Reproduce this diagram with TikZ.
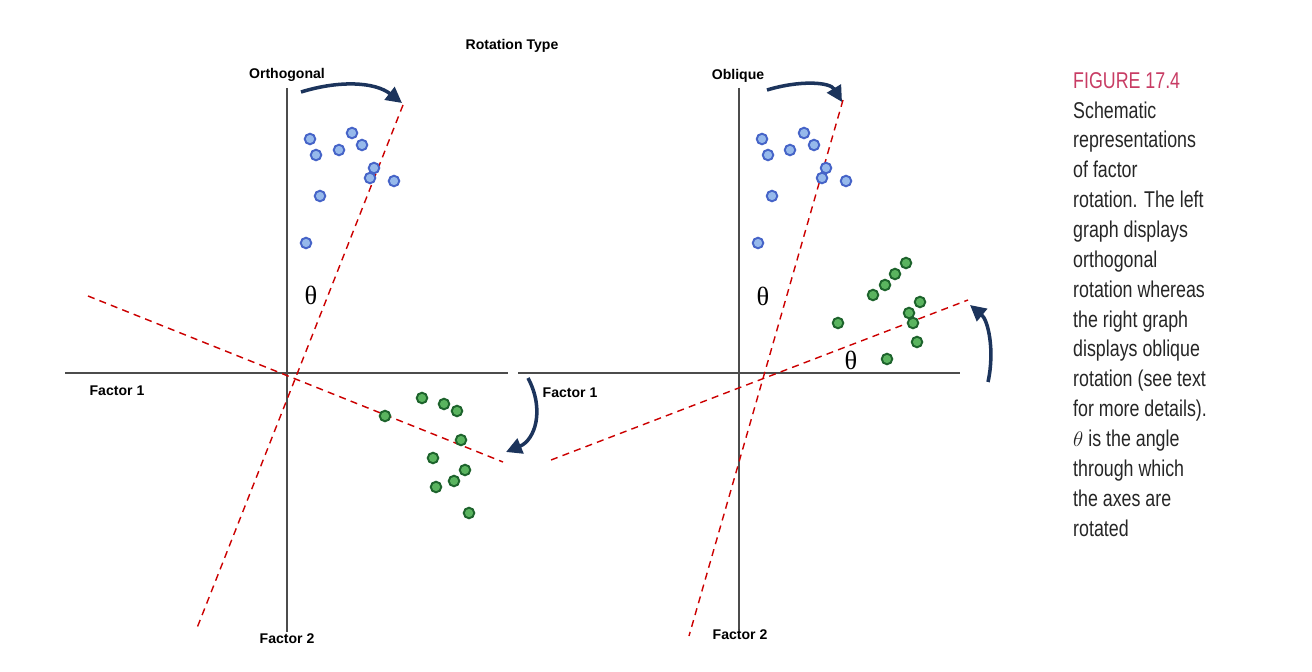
\documentclass[tikz,border=0pt]{standalone}
\usepackage{fontspec}
\setmainfont{Liberation Sans}
\newfontfamily\capfont{Liberation Sans}[FakeStretch=0.78]
\newfontfamily\thetafont{Liberation Serif}
\usetikzlibrary{arrows.meta}
\definecolor{navy}{RGB}{28,52,92}
\definecolor{dotblue}{RGB}{150,185,235}
\definecolor{edgeblue}{RGB}{70,100,200}
\definecolor{dotgreen}{RGB}{90,180,95}
\definecolor{edgegreen}{RGB}{30,100,45}
\definecolor{figpink}{RGB}{200,60,100}
\tikzset{
  axis/.style={black!70,line width=0.6pt},
  rot/.style={red!80!black,dashed,line width=0.8pt,dash pattern=on 4pt off 3pt},
  turn/.style={navy,line width=2pt,-{Triangle[length=9pt,width=9pt]}},
  lbl/.style={font=\bfseries\footnotesize},
  ang/.style={font=\thetafont\fontsize{15}{15}\selectfont},
  bdot/.style={circle,draw=edgeblue,fill=dotblue,line width=1.1pt,inner sep=0pt,minimum size=6pt},
  gdot/.style={circle,draw=edgegreen,fill=dotgreen,line width=1.1pt,inner sep=0pt,minimum size=6pt},
}
\begin{document}
\begin{tikzpicture}[x=0.02cm,y=-0.02cm]
    \useasboundingbox[fill=white] (0,0) rectangle (1312,672);
    \node[lbl] (title) at (512,46) {Rotation Type};

    % Left graph: orthogonal
    \coordinate (lt) at (287,88);  \coordinate (lb) at (287,632);
    \coordinate (ll) at (65,373);  \coordinate (lr) at (508,373);
    \draw[axis] (lt) -- (lb);
    \draw[axis] (ll) -- (lr);
    \coordinate (la1) at (403,105); \coordinate (la2) at (197,628);
    \coordinate (lb1) at (88,296);  \coordinate (lb2) at (503,462);
    \draw[rot] (la1) -- (la2);
    \draw[rot] (lb1) -- (lb2);
    \node[lbl] (orth) at (287,75) {Orthogonal};
    \node[lbl] (lf1) at (117,391) {Factor 1};
    \node[lbl] (lf2) at (287,639) {Factor 2};
    \node[ang] (lth) at (311,295) {θ};
    \coordinate (ls1) at (301,92); \coordinate (le1) at (402,103);
    \draw[turn] (ls1) .. controls (340,80) and (375,82) .. (le1);
    \coordinate (ls2) at (528,378); \coordinate (le2) at (506,452);
    \draw[turn] (ls2) .. controls (545,410) and (535,440) .. (le2);
    \foreach \x/\y [count=\i] in {310/139,316/155,339/150,352/133,362/145,374/168,370/178,394/181,320/196,306/243}
      \node[bdot] (lblue\i) at (\x,\y) {};
    \foreach \x/\y [count=\i] in {385/416,422/398,444/404,457/411,461/440,433/458,465/470,454/481,436/487,469/513}
      \node[gdot] (lgreen\i) at (\x,\y) {};

    % Right graph: oblique
    \coordinate (rt) at (739,88);  \coordinate (rb) at (739,630);
    \coordinate (rl) at (518,373); \coordinate (rr) at (960,373);
    \draw[axis] (rt) -- (rb);
    \draw[axis] (rl) -- (rr);
    \coordinate (ra1) at (843,100); \coordinate (ra2) at (689,636);
    \coordinate (rb1) at (551,460); \coordinate (rb2) at (968,300);
    \draw[rot] (ra1) -- (ra2);
    \draw[rot] (rb1) -- (rb2);
    \node[lbl] (obl) at (738,76) {Oblique};
    \node[lbl] (rf1) at (570,393) {Factor 1};
    \node[lbl] (rf2) at (740,635) {Factor 2};
    \node[ang] (rth1) at (763,296) {θ};
    \node[ang] (rth2) at (851,360) {θ};
    \coordinate (rs1) at (767,90); \coordinate (re1) at (842,102);
    \draw[turn] (rs1) .. controls (800,80) and (830,82) .. (re1);
    \coordinate (rs2) at (988,382); \coordinate (re2) at (970,305);
    \draw[turn] (rs2) .. controls (995,350) and (988,320) .. (re2);
    \foreach \x/\y [count=\i] in {762/139,768/155,790/150,804/133,814/145,826/168,822/178,846/181,772/196,758/243}
      \node[bdot] (rblue\i) at (\x,\y) {};
    \foreach \x/\y [count=\i] in {906/263,895/274,885/285,873/295,920/302,909/313,913/323,838/323,917/342,887/359}
      \node[gdot] (rgreen\i) at (\x,\y) {};

    % Caption
    \node[anchor=north west,align=left,font=\capfont\fontsize{13}{17}\selectfont,text=black!85] (cap) at (1067,66)
      {{\color{figpink}FIGURE 17.4}\\Schematic\\representations\\of factor\\rotation. The left\\graph displays\\orthogonal\\rotation whereas\\the right graph\\displays oblique\\rotation (see text\\for more details).\\$\theta$ is the angle\\through which\\the axes are\\rotated};
\end{tikzpicture}
\end{document}
